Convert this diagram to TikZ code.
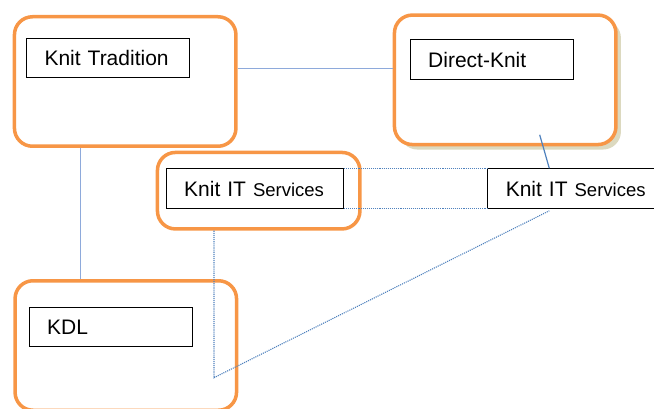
\documentclass[tikz,border=0pt]{standalone}
\usepackage{fontspec}
\setmainfont{Liberation Sans}
\usepackage{xcolor}
\usepackage{tikz}
\usetikzlibrary{positioning, calc, shadows}
\definecolor{knitorange}{HTML}{F79646}
\definecolor{linkblue}{HTML}{4F81BD}
\definecolor{paleblue}{HTML}{8EAADB}
\definecolor{shadowtan}{HTML}{D3CFAF}
\newcommand{\servicesword}{{\fontsize{18.5}{22}\selectfont Services}}

\tikzset{
  orgbox/.style={draw=knitorange, line width=3.5pt, rounded corners=18pt, fill=white,
    anchor=north west, minimum width=221.5pt, minimum height=129.5pt},
  namebox/.style={draw=black, line width=1pt, fill=white, anchor=north west,
    inner xsep=18pt, minimum height=39.5pt, align=left, text width=127pt,
    font=\fontsize{21}{24}\selectfont},
  linkline/.style={draw=paleblue, line width=1pt},
  dotline/.style={draw=linkblue, line width=1.1pt, densely dotted},
}

\begin{document}
\begin{tikzpicture}[x=1pt, y=-1pt]
  \useasboundingbox (0,0) rectangle (654,409);

  % the four company groups
  \node[orgbox] (trad) at (12.7,15) {};
  \node[orgbox, drop shadow={shadow xshift=5pt, shadow yshift=-5pt, fill=shadowtan, opacity=0.8}] (direct) at (392.7,13.3) {};
  \node[orgbox, minimum width=202.5pt, minimum height=76.5pt] (itmid) at (155.7,150.7) {};
  \node[orgbox] (kdl) at (13.3,279) {};

  % solid links between the groups
  \draw[linkline] ([yshift=13pt]trad.east) -- ([yshift=13pt]trad.east -| direct.west);
  \draw[linkline] ([xshift=-45pt]trad.south) -- ([xshift=-45pt]trad.south |- kdl.north);

  % labels
  \node[namebox] (tradlabel) at (26,37.7) {Knit Tradition};
  \node[namebox] (directlabel) at (409.7,39.3) {Direct-Knit};
  \node[namebox, text width=141pt] (itmidlabel) at (165.7,168.3) {Knit IT \servicesword};
  \node[namebox] (kdllabel) at (28.7,306.7) {KDL};
  \node[namebox, text width=141pt] (itright) at (487.3,168.3) {Knit IT \servicesword};

  \coordinate (dkfoot) at ($(direct.south west)+(147,-11.5)$);
  \coordinate (itrighttop) at ($(itright.north west)+(62,0)$);
  \coordinate (itrightfoot) at ($(itright.south west)+(62,2)$);
  \coordinate (itmidfoot) at ([xshift=-44.7pt]itmid.south);
  \coordinate (bend) at ($(itmidfoot)+(0,147)$);

  \draw[draw=linkblue, line width=1.2pt] (dkfoot) -- (itrighttop);
  \draw[dotline] (itmidlabel.north east) -- (itright.north west);
  \draw[dotline] (itmidlabel.south east) -- (itright.south west);
  \draw[dotline] (itmidfoot) -- (bend) -- (itrightfoot);
\end{tikzpicture}
\end{document}
